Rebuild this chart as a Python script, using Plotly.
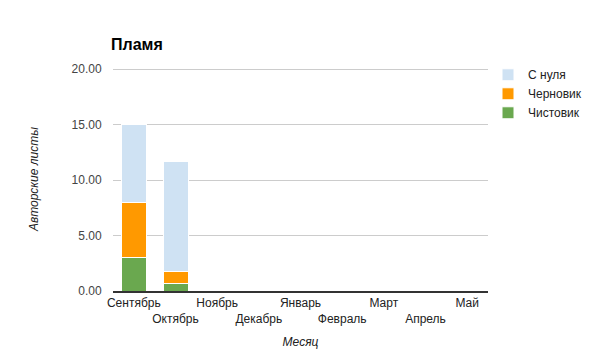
import plotly.graph_objects as go

months = ["Сентябрь", "Октябрь", "Ноябрь", "Декабрь", "Январь",
          "Февраль", "Март", "Апрель", "Май"]
clean = [3.0, 0.68, 0, 0, 0, 0, 0, 0, 0]      # Чистовик
draft = [5.0, 1.07, 0, 0, 0, 0, 0, 0, 0]      # Черновик
scratch = [7.0, 9.9, 0, 0, 0, 0, 0, 0, 0]     # С нуля
y_ticks = [0, 5, 10, 15, 20]

tick_text = [m if i % 2 == 0 else "<br>" + m for i, m in enumerate(months)]

font = "Arial, Liberation Sans, sans-serif"

fig = go.Figure()
for name, vals, color in [("Чистовик", clean, "#6aa84f"),
                          ("Черновик", draft, "#ff9900"),
                          ("С нуля", scratch, "#cfe2f3")]:
    fig.add_trace(go.Bar(x=months, y=vals, name=name,
                         marker=dict(color=color, line=dict(color="white", width=1))))

fig.update_layout(
    width=600, height=361,
    barmode="stack", bargap=0.4,
    plot_bgcolor="white", paper_bgcolor="white",
    margin=dict(l=113, r=112, t=67, b=70, autoexpand=False),
    font=dict(family=font, size=12, color="#222222"),
    title=dict(text="<b>Пламя</b>", x=111/600, xanchor="left", y=1-44/361, yanchor="middle",
               font=dict(size=16, color="black", family=font)),
    legend=dict(x=1.0, y=1.03, xanchor="left", yanchor="top", traceorder="reversed",
                font=dict(size=12, color="#222222"), tracegroupgap=0, itemwidth=30),
    xaxis=dict(tickmode="array", tickvals=months, ticktext=tick_text, showgrid=False,
               showline=True, linecolor="#333333", linewidth=2, ticks="",
               tickangle=0, automargin=False,
               tickfont=dict(size=12, color="#222222"),
               title=dict(text="<i>Месяц</i>", font=dict(size=12, color="#222222"), standoff=13)),
    yaxis=dict(range=[0, 20.2], tickvals=y_ticks, ticktext=[f"{v:.2f}" for v in y_ticks],
               showgrid=True, gridcolor="#cccccc", gridwidth=1, zeroline=False,
               automargin=False, ticks="outside", ticklen=8, tickcolor="white",
               tickfont=dict(size=12, color="#444444"),
               title=dict(text="<i>Авторские листы</i>", font=dict(size=12, color="#222222"), standoff=30)),
)
fig.write_html("out.html")
